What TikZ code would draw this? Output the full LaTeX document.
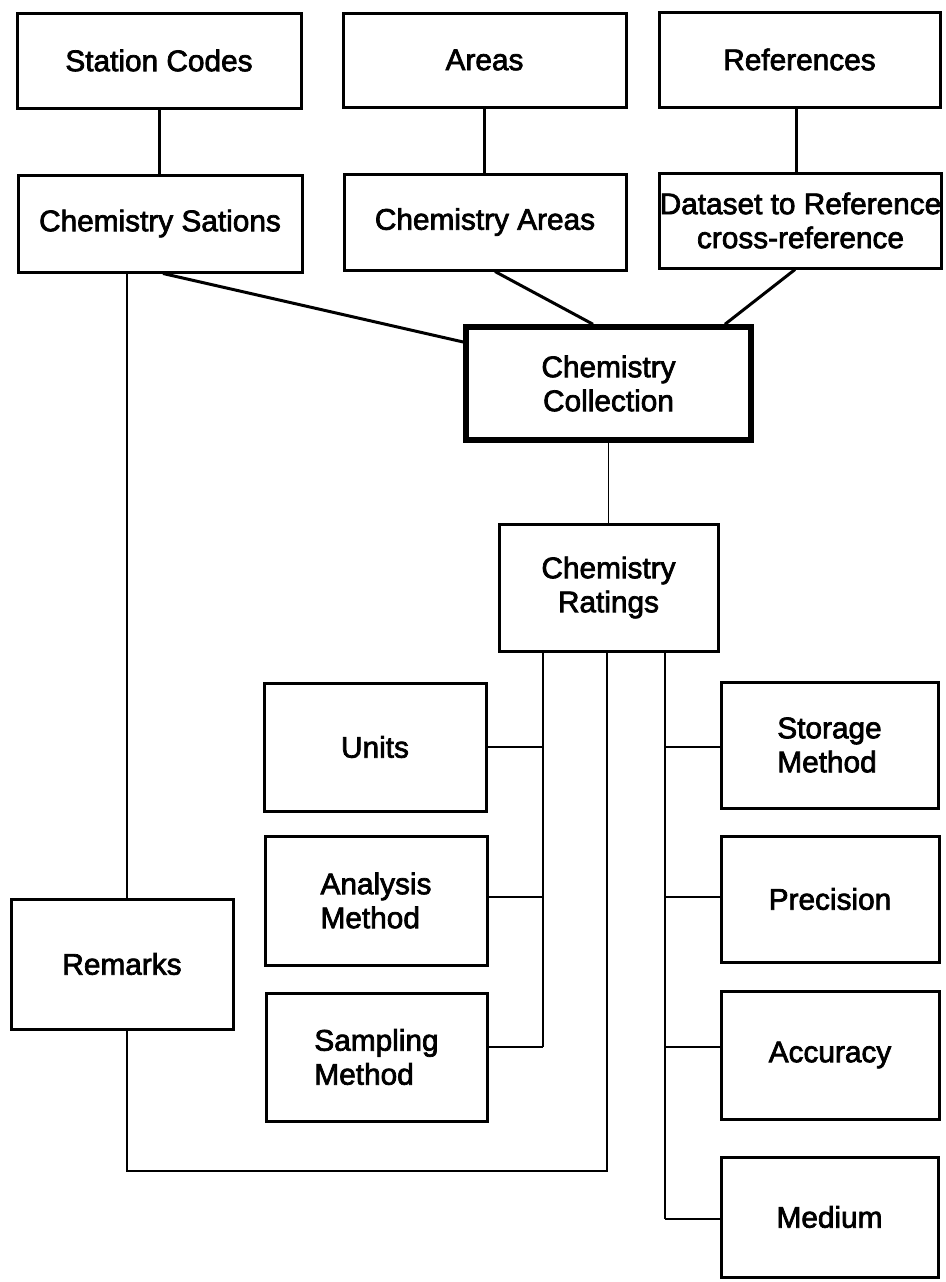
\documentclass[tikz,border=0pt]{standalone}
\usepackage{fontspec}
\newfontfamily\boxfont{Liberation Sans}[FakeBold=2.4]
\begin{document}
\begin{tikzpicture}[x=1pt,y=-1pt,
  entity/.style={draw, line width=3pt, rectangle, inner sep=0pt, align=center,
    font=\boxfont\fontsize{29.8}{34}\selectfont},
  boxsize/.style 2 args={minimum width=#1pt, minimum height=#2pt},
  mainentity/.style={entity, line width=5.5pt},
  wire/.style={line width=3pt},
  fine/.style={line width=1.5pt},
  stub/.style={line width=2.5pt}]
\useasboundingbox (0,0) rectangle (945,1282);

% top row of lookup tables
\node[entity, boxsize={284}{95}] (sc) at (159,60.5) {Station Codes};
\node[entity, boxsize={283}{94}] (ar) at (484.5,60) {Areas};
\node[entity, boxsize={281}{95}] (rf) at (799.5,59.5) {References};

% second row
\node[entity, boxsize={284}{97}] (cs) at (160,223.5) {Chemistry Sations};
\node[entity, boxsize={282}{96}] (ca) at (485,222) {Chemistry Areas};
\node[entity, boxsize={281}{95}] (dr) at (800.5,220.5) {Dataset to Reference\\cross-reference};

% central tables
\node[mainentity, boxsize={285}{113}] (cc) at (608.5,383.5) {Chemistry\\Collection};
\node[entity, boxsize={219}{127}] (cr) at (608.5,587.5) {Chemistry\\Ratings};

% left column
\node[entity, boxsize={222}{128}] (un) at (375,747) {Units};
\node[entity, boxsize={222}{129}, align=left] (am) at (376,900.5) {Analysis\\Method};
\node[entity, boxsize={221}{128}, align=left] (sm) at (376.5,1057) {Sampling\\Method};
\node[entity, boxsize={222}{130}] (rm) at (122,964) {Remarks};

% right column
\node[entity, boxsize={217}{126}, align=left] (st) at (829.5,745) {Storage\\Method};
\node[entity, boxsize={218}{126}] (pr) at (830,899) {Precision};
\node[entity, boxsize={218}{128}] (ac) at (830,1055) {Accuracy};
\node[entity, boxsize={217}{120}] (md) at (829.5,1217) {Medium};

% top links
\draw[wire] (sc.south) -- (sc.south |- cs.north);
\draw[wire] (ar.south) -- (ar.south |- ca.north);
\coordinate (rfj) at ([xshift=-3.5pt]rf.south);
\draw[wire] (rfj) -- (rfj |- dr.north);

% links into the collection table
\draw[wire] ([xshift=3pt]cs.south) -- ([yshift=41.5pt]cc.west);
\draw[wire] ([xshift=10pt]ca.south) -- ([xshift=-15.5pt]cc.north);
\draw[wire] ([xshift=-5.5pt]dr.south) -- ([xshift=116.5pt]cc.north);
\draw[fine] (cc.south) -- (cr.north);

% bus lines below the ratings table
\coordinate (busL) at (543,0);
\coordinate (busM) at (607,0);
\coordinate (busR) at (665,0);

\coordinate (amj) at ([yshift=3.5pt]am.east);
\coordinate (smj) at ([yshift=10pt]sm.east);
\draw[fine] (cr.south -| busL) -- (smj -| busL);
\draw[stub] (un.east) -- (un.east -| busL);
\draw[stub] (amj) -- (amj -| busL);
\draw[stub] (smj) -- (smj -| busL);

\coordinate (stj) at ([yshift=-2pt]st.west);
\coordinate (prj) at ([yshift=2pt]pr.west);
\coordinate (acj) at ([yshift=8pt]ac.west);
\coordinate (mdj) at ([yshift=-2pt]md.west);
\draw[fine] (cr.south -| busR) -- (mdj -| busR);
\draw[stub] (stj) -- (stj -| busR);
\draw[stub] (prj) -- (prj -| busR);
\draw[stub] (acj) -- (acj -| busR);
\draw[stub] (mdj) -- (mdj -| busR);

% remarks loop
\coordinate (loop) at (127,1171);
\draw[fine] (cr.south -| busM) |- (loop) -- (loop |- rm.south);
\draw[fine] (rm.north -| loop) -- (cs.south -| loop);
\end{tikzpicture}
\end{document}
